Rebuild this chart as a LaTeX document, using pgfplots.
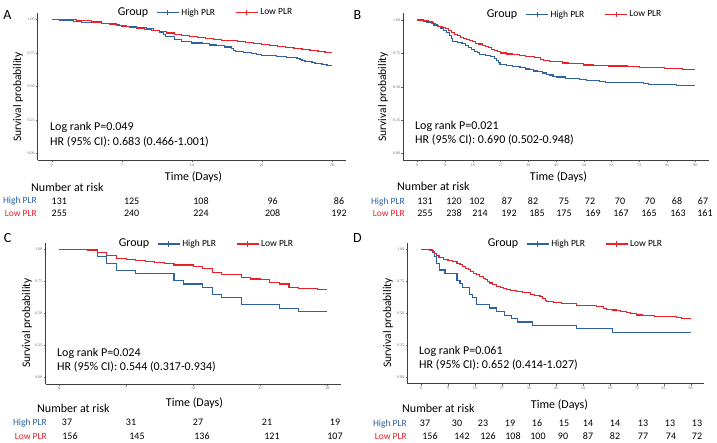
\documentclass[border=0pt]{standalone}
\usepackage{pgfplots}
\pgfplotsset{compat=1.18}
\usepackage{fontspec}
\setmainfont{Carlito}
\newfontfamily\tickfont{Liberation Serif}
\definecolor{hblue}{RGB}{46,96,162}
\definecolor{lred}{RGB}{234,32,40}
\definecolor{tblue}{RGB}{40,94,160}

\pgfplotsset{km/.style={
  scale only axis, axis lines=left, axis line style={-, line width=0.8pt, black!75},
  ymin=-0.05, ymax=1.05, ytick={0,0.25,0.5,0.75,1}, yticklabels={0.00,0.25,0.50,0.75,1.00},
  tick align=outside, major tick length=2pt, tick style={black!60, line width=0.4pt},
  ticklabel style={font=\tickfont\fontsize{4}{4}\selectfont, text=black!60, inner sep=1pt},
  /pgf/number format/assume math mode=true,
  no markers,
  every axis plot/.append style={const plot, line width=1.1pt},
  legend style={draw=none, fill=none, legend columns=2, font=\fontsize{9.5}{10}\selectfont,
    inner sep=0pt, /tikz/every even column/.append style={column sep=18pt}},
  legend cell align=left,
},
hst/.style={color=hblue, legend image code/.code={\draw[draw=hblue, line width=1.1pt] (0pt,0pt) -- (22pt,0pt); \draw[draw=hblue, line width=0.7pt] (11pt,-2.8pt) -- (11pt,2.8pt);}},
lst/.style={color=lred, legend image code/.code={\draw[draw=lred, line width=1.1pt] (0pt,0pt) -- (22pt,0pt); \draw[draw=lred, line width=0.7pt] (11pt,-2.8pt) -- (11pt,2.8pt);}},
}

\begin{document}
\begin{tikzpicture}
\useasboundingbox (0pt,0pt) rectangle (717pt,443pt);

% ---------------- Panel A ----------------
\begin{axis}[km, at={(37.7pt,282.6pt)}, anchor=south west, width=308.3pt, height=147.8pt,
  xmin=-1.4, xmax=29.4, xtick={0,7,14,21,28},
  legend style={at={(0.384,1.0)}, anchor=west}]
\addplot[hst] coordinates {(0,1.000) (0.8,0.992) (2.2,0.985) (3.0,0.977) (5.0,0.969) (6.0,0.962) (6.8,0.954) (7.5,0.946) (8.5,0.939) (9.5,0.931) (10.2,0.916) (10.8,0.901) (11.2,0.885) (11.4,0.870) (12.3,0.847) (13.0,0.832) (14.0,0.824) (15.1,0.817) (15.8,0.809) (16.5,0.802) (17.3,0.794) (18.0,0.786) (18.2,0.771) (18.4,0.763) (19.2,0.756) (20.0,0.748) (20.5,0.740) (21.0,0.733) (22.5,0.725) (23.5,0.718) (24.5,0.710) (24.8,0.702) (25.0,0.695) (25.3,0.687) (26.0,0.679) (26.3,0.672) (27.0,0.664) (27.5,0.656) (28,0.656)};
\addlegendentry{High PLR}
\addplot[lst] coordinates {(0,1.000) (1.2,0.996) (2.5,0.992) (4.0,0.980) (5.0,0.972) (5.8,0.965) (6.5,0.953) (7.0,0.945) (7.8,0.937) (8.5,0.929) (9.3,0.922) (10.0,0.914) (10.8,0.906) (11.5,0.898) (12.3,0.890) (13.0,0.882) (13.8,0.874) (14.6,0.866) (15.4,0.859) (16.2,0.851) (17.0,0.845) (17.8,0.839) (18.6,0.833) (19.4,0.827) (20.2,0.821) (21.0,0.815) (21.8,0.808) (22.6,0.800) (23.4,0.792) (24.2,0.784) (25.0,0.776) (25.8,0.769) (26.6,0.761) (27.3,0.753) (28,0.753)};
\addlegendentry{Low PLR}
\end{axis}

% ---------------- Panel B ----------------
\begin{axis}[km, at={(403.4pt,282.8pt)}, anchor=south west, width=305.4pt, height=146.9pt,
  xmin=-4.5, xmax=94.5, xtick={0,9,18,27,36,45,54,63,72,81,90},
  legend style={at={(0.399,0.991)}, anchor=west}]
\addplot[hst] coordinates {(0,1) (2,0.992) (3,0.985) (4.5,0.977) (5.2,0.962) (6.5,0.954) (7.5,0.939) (8.4,0.924) (9.5,0.908) (10.5,0.885) (11.0,0.863) (11.3,0.840) (13,0.832) (14.5,0.824) (15.5,0.809) (16.5,0.794) (17.5,0.779) (18.5,0.763) (19.5,0.756) (20.3,0.740) (22,0.733) (23.6,0.725) (25,0.710) (25.7,0.695) (26.3,0.679) (26.8,0.664) (29,0.656) (31,0.649) (33.3,0.641) (35,0.633) (36.5,0.626) (37.6,0.618) (39,0.611) (40.5,0.603) (41.9,0.595) (43,0.588) (44,0.580) (45.2,0.573) (48,0.565) (52.7,0.557) (55,0.550) (59.2,0.542) (61,0.534) (73.3,0.527) (75,0.519) (84,0.511) (90,0.511)};
\addlegendentry{High PLR}
\addplot[lst] coordinates {(0,1) (2,0.996) (3.5,0.988) (5,0.976) (6,0.961) (7,0.953) (8,0.941) (9,0.933) (10,0.918) (11,0.906) (12,0.894) (13,0.882) (14,0.871) (15,0.863) (16,0.855) (17,0.847) (18,0.839) (19,0.827) (20,0.820) (21,0.812) (22,0.804) (23,0.792) (24,0.780) (25,0.769) (26,0.761) (27,0.753) (29,0.745) (31,0.741) (33,0.733) (35,0.729) (36,0.725) (38,0.718) (40,0.706) (41,0.698) (43,0.690) (45,0.686) (47,0.678) (49,0.675) (51,0.671) (54,0.663) (57,0.659) (62,0.655) (68,0.651) (72,0.647) (76,0.643) (80,0.639) (84,0.635) (86,0.631) (90,0.631)};
\addlegendentry{Low PLR}
\end{axis}

% ---------------- Panel C ----------------
\begin{axis}[km, at={(45.6pt,58.9pt)}, anchor=south west, width=295.1pt, height=141.2pt,
  xmin=-1.4, xmax=29.4, xtick={0,7,14,21,28},
  legend style={at={(0.3775,0.992)}, anchor=west}]
\addplot[hst] coordinates {(0,1) (4,0.946) (5,0.892) (6,0.838) (8,0.811) (12,0.757) (13,0.730) (15,0.703) (16,0.649) (17,0.622) (19,0.568) (23,0.541) (25,0.514) (28,0.514)};
\addlegendentry{High PLR}
\addplot[lst] coordinates {(0,1) (3,0.994) (4,0.974) (5,0.955) (6,0.929) (7,0.922) (8,0.910) (9,0.904) (10,0.897) (11,0.891) (12,0.878) (14,0.865) (15,0.852) (16,0.820) (17,0.807) (18,0.801) (19,0.782) (20,0.769) (21,0.763) (22,0.743) (23,0.730) (24,0.705) (25,0.698) (26,0.692) (27,0.685) (28,0.685)};
\addlegendentry{Low PLR}
\end{axis}

% ---------------- Panel D ----------------
\begin{axis}[km, at={(407.5pt,59.3pt)}, anchor=south west, width=296.7pt, height=140.8pt,
  xmin=-4.5, xmax=94.5, xtick={0,9,18,27,36,45,54,63,72,81,90},
  legend style={at={(0.3994,0.992)}, anchor=west}]
\addplot[hst] coordinates {(0,1) (3.8,0.973) (4.4,0.946) (5.2,0.892) (6.3,0.838) (8,0.811) (12,0.757) (13,0.730) (14,0.703) (16.2,0.649) (17.3,0.622) (18.6,0.568) (23,0.541) (25.3,0.514) (28,0.486) (30.3,0.459) (32.3,0.432) (37.2,0.405) (52,0.378) (63.8,0.351) (90,0.351)};
\addlegendentry{High PLR}
\addplot[lst] coordinates {(0,1) (3,0.994) (4,0.981) (4.5,0.968) (5.2,0.949) (6,0.936) (7.5,0.923) (9,0.910) (10.5,0.904) (12,0.891) (13,0.878) (14,0.865) (15,0.853) (16,0.840) (16.5,0.827) (17.5,0.814) (18.6,0.801) (19.5,0.788) (20.8,0.775) (21.5,0.763) (22.3,0.750) (23,0.737) (24,0.724) (25.3,0.711) (26.5,0.699) (27.5,0.692) (28.6,0.686) (30,0.679) (31.9,0.667) (34,0.660) (36.4,0.647) (38,0.641) (39.7,0.628) (40.5,0.615) (41.4,0.603) (42,0.590) (44.2,0.583) (47,0.577) (52,0.564) (56.4,0.558) (58.5,0.551) (60.8,0.538) (62,0.532) (64,0.526) (65.3,0.519) (66.5,0.513) (68.6,0.506) (70,0.500) (72,0.487) (74,0.481) (78,0.477) (81,0.474) (85.3,0.468) (87,0.462) (90,0.462)};
\addlegendentry{Low PLR}
\end{axis}

% ---------------- Texts ----------------
\begin{scope}[x=1pt,y=1pt]
\tikzset{lab/.style={font=\fontsize{12}{13}\selectfont, inner sep=0pt},
  num/.style={font=\fontsize{10}{11}\selectfont, inner sep=0pt},
  rl/.style={font=\fontsize{9.5}{10}\selectfont, inner sep=0pt, anchor=east}}

% A
\node[font=\fontsize{14}{15}\selectfont] at (7.5,428) {A};
\node[lab] at (133,430.5) {Group};
\node[lab, anchor=west] at (50,316) {Log rank P=0.049};
\node[lab, anchor=west] at (50,301) {HR (95\% CI): 0.683 (0.466-1.001)};
\node[lab] at (193.5,266) {Time (Days)};
\node[lab, font=\fontsize{11.5}{12}\selectfont, rotate=90] at (18,346) {Survival probability};
\node[lab, anchor=west] at (31,256) {Number at risk};
\node[rl, text=tblue] at (37,242) {High PLR};
\node[rl, text=lred] at (37,230) {Low PLR};
\foreach \x/\v in {59.3/131,131.7/125,201/108,272.7/96,339/86} \node[num] at (\x,242) {\v};
\foreach \x/\v in {59.3/255,131.7/240,201/224,272.7/208,339/192} \node[num] at (\x,230) {\v};

% B
\node[font=\fontsize{14}{15}\selectfont] at (357.5,428) {B};
\node[lab] at (502,428) {Group};
\node[lab, anchor=west] at (415,317) {Log rank P=0.021};
\node[lab, anchor=west] at (415,303) {HR (95\% CI): 0.690 (0.502-0.948)};
\node[lab] at (558.5,266) {Time (Days)};
\node[lab, font=\fontsize{11.5}{12}\selectfont, rotate=90] at (383,346) {Survival probability};
\node[lab, anchor=west] at (397,257) {Number at risk};
\node[rl, text=tblue] at (405,241) {High PLR};
\node[rl, text=lred] at (405,230) {Low PLR};
\foreach \x/\v in {425/131,454/120,477/102,507/87,533/82,564/75,590/72,620/70,650/70,677/68,703/67} \node[num] at (\x,242) {\v};
\foreach \x/\v in {425/255,454/238,480/214,509/192,537/185,564/175,593/169,621/167,649/165,678/163,705/161} \node[num] at (\x,230) {\v};

% C
\node[font=\fontsize{14}{15}\selectfont] at (7.5,205) {C};
\node[lab] at (134,199) {Group};
\node[lab, anchor=west] at (57,90) {Log rank P=0.024};
\node[lab, anchor=west] at (57,76) {HR (95\% CI): 0.544 (0.317-0.934)};
\node[lab] at (194.5,40) {Time (Days)};
\node[lab, font=\fontsize{11.5}{12}\selectfont, rotate=90] at (27,120) {Survival probability};
\node[lab, anchor=west] at (37,35) {Number at risk};
\node[rl, text=tblue] at (47,20) {High PLR};
\node[rl, text=lred] at (47,7) {Low PLR};
\foreach \x/\v in {67/37,131/31,198/27,267/21,335/19} \node[num] at (\x,21) {\v};
\foreach \x/\v in {70/156,137/145,202/136,272/121,335/107} \node[num] at (\x,7) {\v};

% D
\node[font=\fontsize{14}{15}\selectfont] at (357.5,205) {D};
\node[lab] at (503,199) {Group};
\node[lab, anchor=west] at (419,92) {Log rank P=0.061};
\node[lab, anchor=west] at (419,78) {HR (95\% CI): 0.652 (0.414-1.027)};
\node[lab] at (559.5,38) {Time (Days)};
\node[lab, font=\fontsize{11.5}{12}\selectfont, rotate=90] at (388,120) {Survival probability};
\node[lab, anchor=west] at (402,35) {Number at risk};
\node[rl, text=tblue] at (407,19) {High PLR};
\node[rl, text=lred] at (407,7) {Low PLR};
\foreach \x/\v in {425/37,457/30,483/23,510/19,537/16,564/15,588/14,615/14,643/13,670/13,697/13} \node[num] at (\x,20) {\v};
\foreach \x/\v in {430/156,462/142,488/126,513/108,538/100,563/90,588/87,615/82,643/77,671/74,697/72} \node[num] at (\x,7) {\v};
\end{scope}
\end{tikzpicture}
\end{document}
